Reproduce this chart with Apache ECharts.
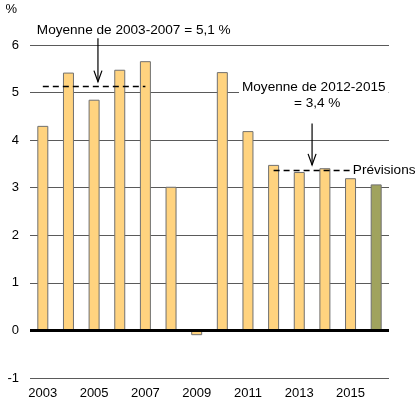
<!DOCTYPE html>
<html>
<head>
    <meta charset="UTF-8"/>
    <script src="https://cdn.jsdelivr.net/npm/echarts@6/dist/echarts.min.js"></script>
    <style>
        html, body { margin: 0; padding: 0; background: #fff; }
        #main { width: 419px; height: 418px; }
    </style>
</head>
<body>
<div id="main"></div>
<script type="text/javascript">
    // données
    var years = ['2003', '2004', '2005', '2006', '2007', '2008', '2009', '2010', '2011', '2012', '2013', '2014', '2015', '2016'];
    var growth = [4.3, 5.42, 4.85, 5.48, 5.66, 3.02, -0.1, 5.43, 4.19, 3.48, 3.33, 3.41, 3.2, 3.07];
    var forecastYears = ['2016'];
    var yTicks = [-1, 0, 1, 2, 3, 4, 5, 6];
    // moyennes : [début, fin, valeur]
    var avgPeriod1 = ['2003', '2007', 5.14];
    var avgPeriod2 = ['2012', '2015', 3.37];

    var FONT = '"Liberation Sans", Arial, sans-serif';
    var barColor = '#FFD37F';
    var forecastColor = '#A0A35E';

    var barData = years.map(function (y, i) {
        var isForecast = forecastYears.indexOf(y) >= 0;
        return {value: growth[i], itemStyle: {color: isForecast ? forecastColor : barColor}};
    });

    var myChart = echarts.init(document.getElementById('main'));
    var option = {
        animation: false,
        textStyle: {fontFamily: FONT},
        grid: {left: 30, right: 30, top: 45, bottom: 40, outerBoundsMode: 'none', containLabel: false},
        xAxis: {
            type: 'category',
            data: years,
            axisLine: {show: false},
            axisTick: {show: false},
            axisLabel: {interval: 1, color: '#000', fontSize: 13, fontFamily: FONT, margin: 9}
        },
        yAxis: {
            type: 'value',
            min: yTicks[0],
            max: yTicks[yTicks.length - 1],
            interval: 1,
            name: '%',
            nameLocation: 'end',
            nameGap: 29,
            nameTextStyle: {color: '#000', fontSize: 13, fontFamily: FONT, align: 'right', padding: [0, 13, 0, 0]},
            axisLine: {show: false},
            axisTick: {show: false},
            axisLabel: {color: '#000', fontSize: 13, fontFamily: FONT, margin: 11},
            splitLine: {lineStyle: {color: '#5a5a5a', width: 1}}
        },
        series: [{
            type: 'bar',
            data: barData,
            barWidth: 11,
            itemStyle: {borderColor: '#707070', borderWidth: 1},
            markLine: {
                silent: true,
                symbol: 'none',
                label: {show: false},
                data: [
                    [{coord: [avgPeriod1[0], avgPeriod1[2]], lineStyle: {color: '#000', type: [6, 4], width: 1.3}},
                        {coord: [avgPeriod1[1], avgPeriod1[2]]}],
                    [{coord: [avgPeriod2[0], avgPeriod2[2]], lineStyle: {color: '#000', type: [6, 4], width: 1.3}},
                        {coord: [avgPeriod2[1], avgPeriod2[2]]}],
                    {yAxis: 0, lineStyle: {color: '#000', type: 'solid', width: 3}}
                ]
            }
        }]
    };
    myChart.setOption(option);

    // annotations placées à partir des échelles
    function px(catPos, v) {
        var i = Math.floor(catPos), f = catPos - i;
        var a = myChart.convertToPixel({gridIndex: 0}, [years[i], v]);
        var b = myChart.convertToPixel({gridIndex: 0}, [years[Math.min(i + 1, years.length - 1)], v]);
        return [a[0] + (b[0] - a[0]) * f, a[1]];
    }
    function arrow(catPos, vTop, vBottom) {
        var top = px(catPos, vTop), bot = px(catPos, vBottom);
        return [{
            type: 'line', z: 20,
            shape: {x1: top[0], y1: top[1], x2: bot[0], y2: bot[1]},
            style: {stroke: '#000', lineWidth: 1.2}
        }, {
            type: 'polyline', z: 20,
            shape: {points: [[bot[0] - 4, bot[1] - 11], [bot[0], bot[1]], [bot[0] + 4, bot[1] - 11]]},
            style: {stroke: '#000', lineWidth: 1.2, fill: null}
        }];
    }
    var t1 = px(0, 6.31);
    var t2 = px(7.65, 5.12);
    var t3 = px(10.7, 4.78);
    var t4 = px(12.05, 3.37);
    var txtStyle = {fill: '#000', fontSize: 13.6, fontFamily: FONT};
    var graphics = []
        .concat(arrow(2.15, 6.2, 5.23))
        .concat(arrow(10.5, 4.35, 3.48))
        .concat([
            {type: 'text', z: 30, x: t1[0] - 8, y: t1[1], style: Object.assign({text: 'Moyenne de 2003-2007 = 5,1 %', verticalAlign: 'middle', backgroundColor: '#fff', padding: [1, 2]}, txtStyle)},
            {type: 'text', z: 30, x: t2[0], y: t2[1], style: Object.assign({text: 'Moyenne de 2012-2015', verticalAlign: 'middle', backgroundColor: '#fff', padding: [1, 3]}, txtStyle)},
            {type: 'text', z: 30, x: t3[0], y: t3[1], style: Object.assign({text: '= 3,4 %', align: 'center', verticalAlign: 'middle'}, txtStyle)},
            {type: 'text', z: 30, x: t4[0], y: t4[1], style: Object.assign({text: 'Prévisions', verticalAlign: 'middle', backgroundColor: '#fff', padding: [1, 1]}, txtStyle)}
        ]);
    myChart.setOption({graphic: graphics});
</script>
</body>
</html>
